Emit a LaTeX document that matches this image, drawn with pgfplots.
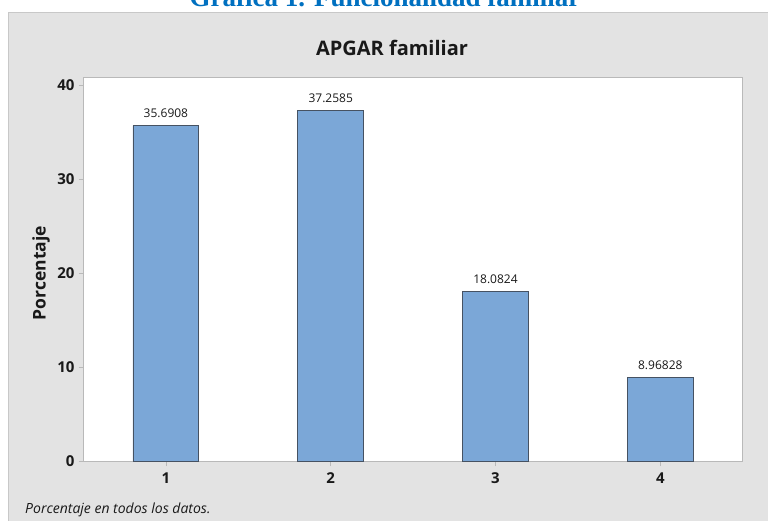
\documentclass[border=0pt]{standalone}
\usepackage{fontspec}
\setmainfont{Open Sans}
\newfontfamily\titlefont{Liberation Serif}
\usepackage{pgfplots}
\usepackage{pgfplotstable}
\pgfplotsset{compat=1.18}
\definecolor{bg}{RGB}{227,227,227}
\definecolor{frame}{RGB}{200,200,200}
\definecolor{barfill}{RGB}{123,167,215}
\definecolor{bardraw}{RGB}{70,82,98}
\definecolor{axline}{RGB}{185,185,185}
\definecolor{txt}{RGB}{25,25,25}
\definecolor{ttl}{RGB}{0,112,192}
\pgfplotstableread{
x y lab
1 35.6908 35.6908
2 37.2585 37.2585
3 18.0824 18.0824
4 8.96828 8.96828
}\apgar
\begin{document}
\begin{tikzpicture}[x=1pt,y=1pt]
\useasboundingbox (0pt,0pt) rectangle (768pt,521pt);
\fill[white] (0pt,0pt) rectangle (768pt,521pt);
\fill[bg] (8pt,0pt) rectangle (768pt,508pt);
\draw[frame, line width=1pt] (8pt,0pt) -- (8pt,508pt) -- (768pt,508pt);
\node[font=\titlefont\bfseries\fontsize{27}{30}\selectfont, text=ttl, anchor=base] at (385pt,514pt) {Gráfica 1. Funcionalidad familiar};
\node[font=\bfseries\fontsize{20}{24}\selectfont, text=txt] at (392pt,473pt) {APGAR familiar};
\node[font=\bfseries\fontsize{17.5}{20}\selectfont, text=txt, rotate=90] at (41pt,248pt) {Porcentaje};
\node[font=\itshape\fontsize{14}{16}\selectfont, text=txt, anchor=west, inner sep=0pt] at (25pt,11pt) {Porcentaje en todos los datos.};
\begin{axis}[
  at={(83.5pt,59.5pt)}, anchor=south west,
  scale only axis, width=659.2pt, height=384pt,
  xmin=0.5, xmax=4.5, ymin=0, ymax=40.8,
  axis background/.style={fill=white},
  axis line style={axline, line width=1.2pt},
  xtick={1,2,3,4}, ytick={0,10,20,30,40},
  tick align=outside, major tick length=5pt,
  xtick pos=bottom, ytick pos=left,
  tick style={axline, line width=0.8pt},
  /pgf/number format/assume math mode=true,
  ticklabel style={font=\bfseries\fontsize{15}{17}\selectfont, text=txt},
  xticklabel style={yshift=-3pt},
  yticklabel style={xshift=-0.5pt},
  nodes near coords,
  point meta=explicit symbolic,
  every node near coord/.append style={font=\fontsize{12}{14}\selectfont, text=txt, anchor=south, yshift=4pt},
  clip=false,
]
\addplot[ybar, bar width=0.4, fill=barfill, draw=bardraw, line width=0.8pt] table[x=x, y=y, meta=lab] {\apgar};
\end{axis}
\end{tikzpicture}
\end{document}
